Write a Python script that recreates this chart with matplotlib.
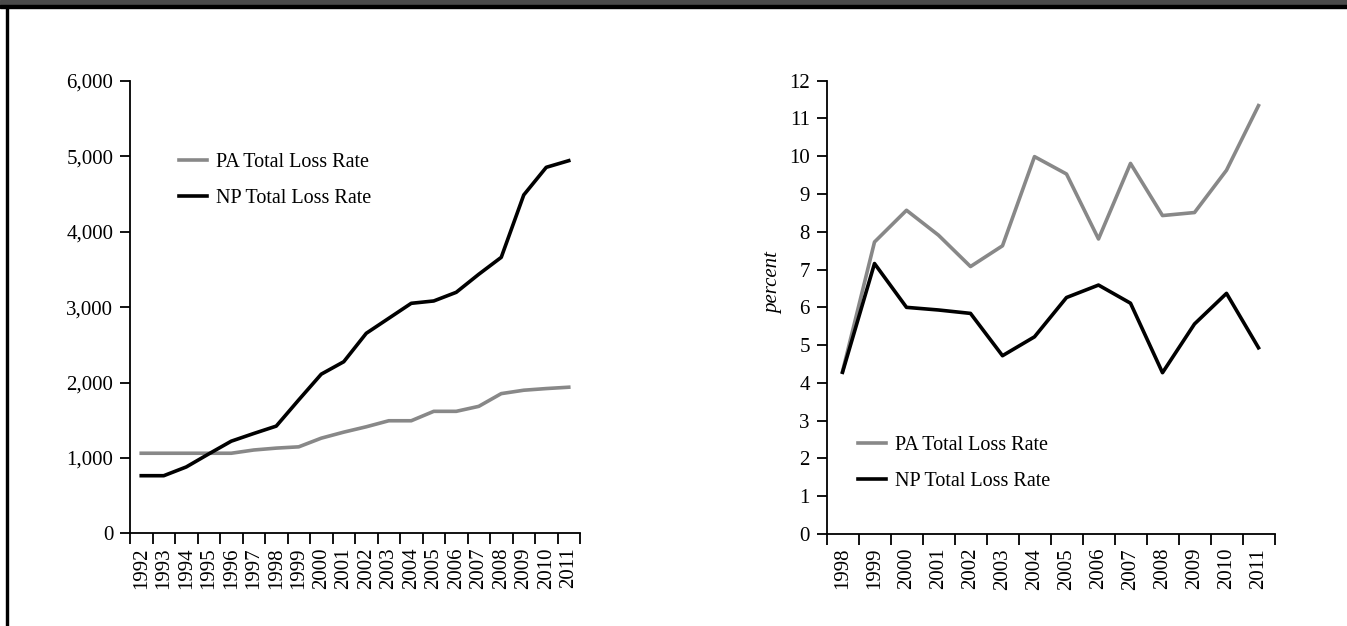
import matplotlib
matplotlib.use("Agg")
import matplotlib.pyplot as plt
from matplotlib.patches import Rectangle
import numpy as np

# left panel: loss rate level, 1992-2011
years_left = [str(y) for y in range(1992, 2012)]
pa_level = [1062, 1062, 1062, 1062, 1062, 1105, 1130, 1147, 1262, 1342,
            1413, 1493, 1493, 1618, 1618, 1684, 1853, 1898, 1920, 1938]
np_level = [764, 764, 880, 1053, 1222, 1324, 1422, 1770, 2111, 2276,
            2653, 2852, 3051, 3082, 3197, 3436, 3661, 4488, 4855, 4943]

# right panel: loss rate in percent, 1998-2011
years_right = [str(y) for y in range(1998, 2012)]
pa_pct = [4.3, 7.73, 8.57, 7.91, 7.08, 7.63, 9.99, 9.53, 7.81, 9.81,
          8.43, 8.51, 9.63, 11.34]
np_pct = [4.28, 7.16, 6.0, 5.93, 5.84, 4.72, 5.22, 6.26, 6.59, 6.11,
          4.27, 5.56, 6.37, 4.93]

GREY = "#888888"
plt.rcParams["font.family"] = ["Liberation Serif", "DejaVu Serif"]
plt.rcParams["font.size"] = 15

W, H = 1347, 626
fig = plt.figure(figsize=(W / 100, H / 100), dpi=100)

# frame: dark band on top, black rule below it and on the left
fig.patches.append(Rectangle((0, 1 - 5 / H), 1, 5 / H, transform=fig.transFigure,
                             color="#4a4a4a", zorder=0))
fig.patches.append(Rectangle((0, 1 - 7.5 / H), 1, 2.5 / H, transform=fig.transFigure,
                             color="black", zorder=0))
fig.patches.append(Rectangle((6 / W, 0), 2.2 / W, 1 - 7 / H, transform=fig.transFigure,
                             color="black", zorder=0))


def style_axes(ax, labels):
    n = len(labels)
    for s in ("top", "right"):
        ax.spines[s].set_visible(False)
    for s in ("left", "bottom"):
        ax.spines[s].set_linewidth(1.3)
    ax.set_xlim(-0.5, n - 0.5)
    ax.set_xticks(np.arange(n + 1) - 0.5)
    ax.set_xticklabels([])
    ax.set_xticks(np.arange(n), minor=True)
    ax.set_xticklabels(labels, minor=True, rotation=90)
    ax.tick_params(axis="x", which="major", length=8, width=1.3, direction="out")
    ax.tick_params(axis="x", which="minor", length=0, pad=10)
    ax.tick_params(axis="y", length=7, width=1.3, direction="out", pad=5)


def add_legend(ax, x_px, y_px):
    ax.legend(loc="upper left", bbox_to_anchor=(x_px / W, 1 - y_px / H),
              bbox_transform=fig.transFigure, frameon=False, fontsize=14.5,
              handlelength=1.4, handletextpad=0.45, labelspacing=0.85,
              borderpad=0, borderaxespad=0)


# left chart
ax1 = fig.add_axes([130 / W, 1 - 533.3 / H, 450 / W, 452.3 / H])
x1 = np.arange(len(years_left))
ax1.plot(x1, pa_level, color=GREY, lw=2.6, label="PA Total Loss Rate")
ax1.plot(x1, np_level, color="black", lw=2.6, label="NP Total Loss Rate")
ax1.set_ylim(0, 6000)
ax1.set_yticks(range(0, 6001, 1000))
ax1.set_yticklabels([f"{v:,}" for v in range(0, 6001, 1000)])
style_axes(ax1, years_left)
add_legend(ax1, 179, 153)

# right chart
ax2 = fig.add_axes([826.5 / W, 1 - 534 / H, 448 / W, 453.3 / H])
x2 = np.arange(len(years_right))
ax2.plot(x2, pa_pct, color=GREY, lw=2.6, label="PA Total Loss Rate")
ax2.plot(x2, np_pct, color="black", lw=2.6, label="NP Total Loss Rate")
ax2.set_ylim(0, 12)
ax2.set_yticks(range(0, 13))
style_axes(ax2, years_right)
ax2.set_ylabel("percent", style="italic")
ax2.yaxis.set_label_coords(-0.097, 0.554)
add_legend(ax2, 858, 436)

fig.savefig("out.png", dpi=100)
